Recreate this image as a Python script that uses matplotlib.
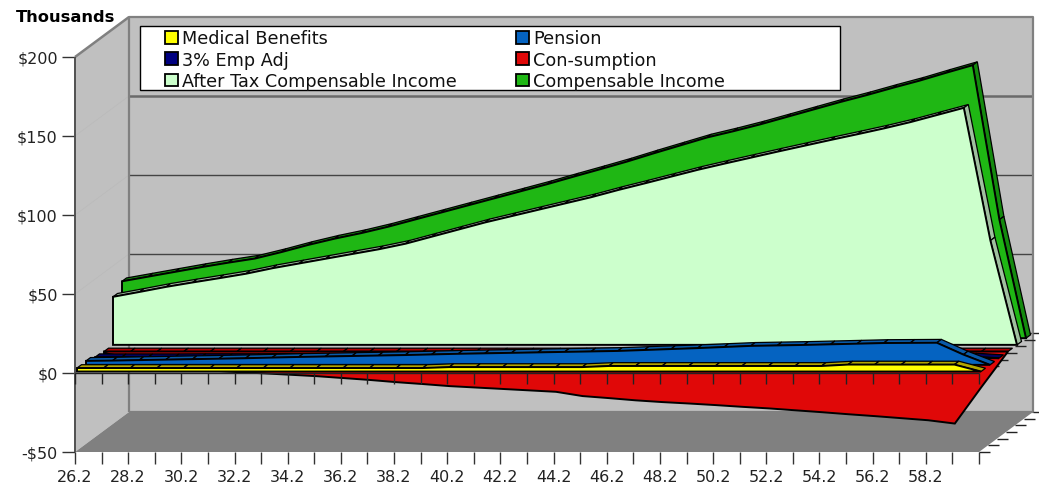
import matplotlib
matplotlib.use('Agg')
import matplotlib.pyplot as plt
from matplotlib.patches import Patch, Polygon
from matplotlib.transforms import IdentityTransform
import numpy as np

W, H = 1039, 489

ages = [26.2 + i for i in range(35)]
y_ticks = [-50, 0, 50, 100, 150, 200]
y_labels = ['-$50', '$0', '$50', '$100', '$150', '$200']

medical = [2.2] * 14 + [2.8] * 6 + [3.5] * 9 + [4.4, 4.4, 4.4, 4.4, 4.4, 0]
emp_adj = [0.6, 0.6, 0.6, 0.6, 0.7, 0.7, 0.7, 0.8, 0.8, 0.8, 0.9, 0.9, 0.9, 1, 1, 1, 1.1, 1.1,
           1.1, 1.2, 1.2, 1.2, 1.3, 1.3, 1.3, 1.4, 1.4, 1.4, 1.5, 1.5, 1.5, 1.6, 1.6, 1, 0]
pension = [2.5, 2.7, 3, 3.3, 3.6, 3.9, 4.2, 4.6, 5, 5.3, 5.6, 5.9, 6.2, 6.6, 7, 7.3, 7.6, 7.9,
           8.2, 8.5, 8.8, 9.4, 10, 10.6, 11.3, 12, 12.3, 12.6, 13, 13.4, 13.8, 13.9, 14, 6.5, 0]
consumption = [-1, -4, -7, -9.8, -12, -13, -13.8, -14.7, -15.6, -16.8, -18, -19.4, -20.6, -21.9,
               -22.8, -23.7, -24.6, -25.5, -28.2, -29.5, -30.9, -32, -32.9, -33.9, -35, -36, -37.2,
               -38.4, -39.7, -40.9, -42.2, -43.5, -45.6, -22.5, 0]
after_tax = [30.4, 33.5, 36.7, 39.5, 42.2, 45, 48.5, 51.5, 54.5, 57.5, 60.5, 64, 68.5, 73, 77.5,
             81.5, 85.5, 89.5, 93.5, 98, 102.2, 106.5, 110.8, 114.7, 118.5, 122.3, 126, 129.7,
             133.3, 137, 141, 145.5, 150, 66, 0]
comp_income = [36, 39, 42, 45, 47.8, 50.4, 54.5, 59, 63, 66.5, 70.5, 75, 79.5, 84, 88.5, 93, 97.5,
               102.3, 107, 111.8, 117, 122, 127, 131, 135.3, 140, 144.7, 149.4, 153.8, 158.5, 163,
               168, 172.8, 75, 0]

series_names = ['Medical Benefits', '3% Emp Adj', 'Pension', 'Con-sumption',
                'After Tax Compensable Income', 'Compensable Income']
series_values = [medical, emp_adj, pension, consumption, after_tax, comp_income]
series_colors = ['#FFFF00', '#000080', '#0563C1', '#E00808', '#CCFFCC', '#1FB714']
ribbon_colors = ['#B3A600', '#000060', '#0A5AA8', '#B00000', '#A0C0A0', '#148A0E']
series_depth = [2, 20, 11, 29, 38, 47]

DEPTH = 54
DEPTH_Y = 40 / 54
SLAB = 4.5

plt.rcParams['font.family'] = 'DejaVu Sans'
fig = plt.figure(figsize=(W / 100, H / 100), dpi=100)
ax = fig.add_axes([75 / W, (H - 453) / H, 904 / W, 395 / H])
ax.set_xlim(0, 34)
ax.set_ylim(-50, 200)
for s in ax.spines.values():
    s.set_visible(False)
ax.patch.set_visible(False)


def to_px(xs, ys, depth=0):
    pts = ax.transData.transform(np.column_stack([xs, ys]).astype(float))
    return pts + np.array([depth, depth * DEPTH_Y])


def add_poly(pts, color, edge='none', lw=0, z=1):
    ax.add_patch(Polygon(pts, closed=True, facecolor=color, edgecolor=edge, linewidth=lw, zorder=z,
                         transform=IdentityTransform(), clip_on=False, joinstyle='miter'))


def add_line(pts, color, lw=1, z=1):
    ax.plot(pts[:, 0], pts[:, 1], color=color, lw=lw, zorder=z, transform=IdentityTransform(),
            clip_on=False, solid_capstyle='butt', scalex=False, scaley=False)


# walls and floor
back_bl = to_px([0], [-50], DEPTH)[0]
back_br = to_px([34], [-50], DEPTH)[0]
back_tl = to_px([0], [200], DEPTH)[0]
back_tr = to_px([34], [200], DEPTH)[0]
front_bl = to_px([0], [-50])[0]
front_br = to_px([34], [-50])[0]
front_tl = to_px([0], [200])[0]
add_poly([back_bl, back_br, back_tr, back_tl], '#C0C0C0', z=1)
add_poly([front_bl, back_bl, back_tl, front_tl], '#C0C0C0', z=1)
add_poly([front_bl, front_br, back_br, back_bl], '#808080', z=1)
for v in y_ticks[1:-1]:
    if v == 150:
        add_line(to_px([0, 34], [v, v], DEPTH), '#6A6A6A', 1.8, 2)
    else:
        add_line(to_px([0, 34], [v, v], DEPTH), '#444444', 1.0, 2)
    add_line(np.vstack([to_px([0], [v]), to_px([0], [v], DEPTH)]), '#BABABA', 0.5, 2)
add_line(np.array([back_bl, back_br, back_tr, back_tl, back_bl]), '#808080', 1.6, 2)
add_line(np.array([front_tl, back_tl]), '#808080', 1.8, 2)
add_line(np.array([front_tl, front_bl]), '#505050', 1.4, 3)

# depth ticks on the right side, floor and zero plane
for k in range(7):
    for v in (-50, 0):
        p = to_px([34], [v], 9 * k)[0]
        add_line(np.array([p, p + [11, 0]]), '#222222', 1, 3)

# series, back to front
x_idx = np.arange(len(ages))
draw_order = sorted(range(6), key=lambda n: -series_depth[n])
for rank, n in enumerate(draw_order):
    vals = np.array(series_values[n], dtype=float)
    d = series_depth[n]
    z = 10 + rank * 2
    top = np.maximum(vals, 0)
    front = to_px(x_idx, top, d)
    back = to_px(x_idx, top, d + SLAB)
    for i in range(len(vals) - 1):
        add_poly([front[i], front[i + 1], back[i + 1], back[i]], ribbon_colors[n], 'black', 0.9, z)
    if vals.min() < 0:
        outline = np.vstack([to_px(x_idx, np.zeros(len(vals)), d), to_px(x_idx, vals, d)[::-1]])
    else:
        outline = np.vstack([to_px([0], [0], d), to_px(x_idx, vals, d), to_px([34], [0], d)])
    add_poly(outline, series_colors[n], 'black', 1.4, z + 1)

# ticks on the zero plane run over the fills
for i in x_idx:
    p = to_px([i], [0])[0]
    add_line(np.array([p, p - [0, 11]]), '#222222', 1, 30)
add_line(to_px([0, 34], [0, 0]), '#222222', 1, 30)

ax.set_xticks(x_idx)
ax.set_xticklabels([f'{a:.1f}' if i % 2 == 0 and i < 33 else '' for i, a in enumerate(ages)])
ax.set_yticks(y_ticks)
ax.set_yticklabels(y_labels)
ax.tick_params(axis='x', length=8.6, width=1, color='#333333', labelsize=11.5, pad=3.5, labelcolor='#222222')
ax.tick_params(axis='y', length=9.4, width=1, color='#333333', labelsize=11.5, pad=3, labelcolor='#222222')

fig.text(16 / W, 1 - 17 / H, 'Thousands', fontsize=11.7, fontweight='bold', va='center', ha='left', color='black')

# legend box is wider than its entries
box = plt.Rectangle((140 / W, 1 - 91 / H), 700 / W, 64 / H, transform=fig.transFigure, facecolor='white',
                    edgecolor='black', linewidth=1, zorder=35)
fig.add_artist(box)
handles = [Patch(facecolor=c, edgecolor='black', linewidth=1.3) for c in series_colors]
order = [0, 1, 4, 2, 3, 5]
leg = fig.legend([handles[i] for i in order], [series_names[i] for i in order], ncol=2,
                 loc='upper left', bbox_to_anchor=(165 / W, 1 - 30.5 / H), fontsize=12.7,
                 frameon=False, handlelength=0.74, handleheight=0.74, handletextpad=0.23,
                 labelspacing=0.19, columnspacing=3.35, borderpad=0, borderaxespad=0)
leg.set_zorder(40)
for t in leg.get_texts():
    t.set_color('#111111')

fig.savefig('out.png', dpi=100)
